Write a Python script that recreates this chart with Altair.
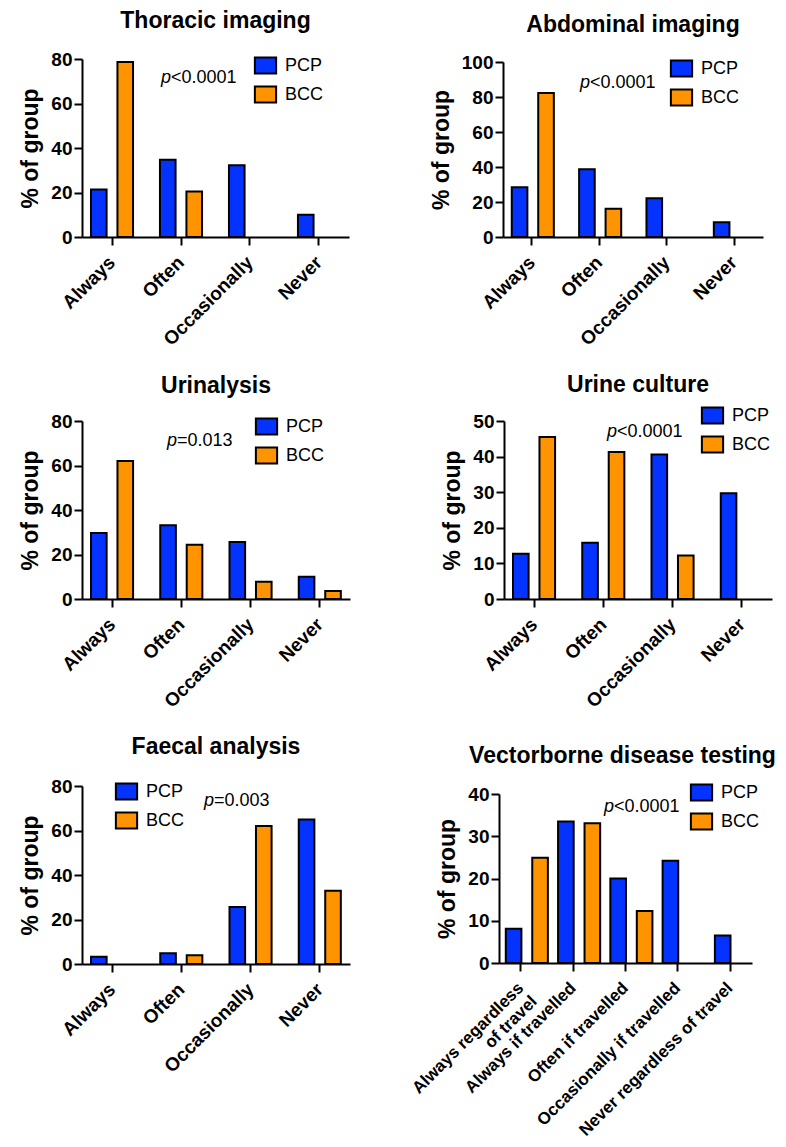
import altair as alt
import pandas as pd

FONT = "Liberation Sans"
BLUE = "#0433FF"
ORANGE = "#FF9300"
groups = ["PCP", "BCC"]

# ---- data ----
freq_cats = ["Always", "Often", "Occasionally", "Never"]

thoracic_pcp = [21.3, 34.7, 32.3, 10.0]
thoracic_bcc = [78.7, 20.4, 0, 0]

abdominal_pcp = [28.5, 38.7, 22.1, 8.5]
abdominal_bcc = [82.3, 16.2, 0, 0]

urinalysis_pcp = [29.7, 33.2, 25.6, 10.0]
urinalysis_bcc = [62.0, 24.4, 7.8, 3.6]

culture_pcp = [12.7, 15.8, 40.6, 29.7]
culture_bcc = [45.5, 41.3, 12.2, 0]

faecal_pcp = [3.3, 4.8, 25.6, 65.0]
faecal_bcc = [0, 3.9, 62.0, 32.9]

vector_cats = ["Always regardless of travel", "Always if travelled",
               "Often if travelled", "Occasionally if travelled",
               "Never regardless of travel"]
vector_pcp = [8.1, 33.5, 20.0, 24.2, 6.5]
vector_bcc = [24.9, 33.1, 12.3, 0, 0]

titles = ["Thoracic imaging", "Abdominal imaging", "Urinalysis",
          "Urine culture", "Faecal analysis", "Vectorborne disease testing"]
p_values = ["<0.0001", "<0.0001", "=0.013", "<0.0001", "=0.003", "<0.0001"]
y_max = [80, 100, 80, 50, 80, 40]
y_step = [20, 20, 20, 10, 20, 10]

LEG_SHAPE = "M-1.25,-0.95H1.25V0.95H-1.25Z"


def panel(title, cats, pcp, bcc, ymax, ystep, w, h, top_gap, leg, ptxt, pxy,
          pad_in, pad_out, off_pad, t_off, t_dx=0, xfs=19, label_expr=None):
    rows = []
    for c, a, b in zip(cats, pcp, bcc):
        if a > 0:
            rows.append({"cat": c, "group": "PCP", "val": a})
        if b > 0:
            rows.append({"cat": c, "group": "BCC", "val": b})
    df = pd.DataFrame(rows)

    xaxis_kw = dict(title=None, labelAngle=-45, labelAlign="right",
                    labelBaseline="middle", labelFontSize=xfs, labelPadding=14,
                    labelLimit=400)
    if label_expr:
        xaxis_kw["labelExpr"] = label_expr
    bars = alt.Chart(df).mark_bar(stroke="black", strokeWidth=2).encode(
        x=alt.X("cat:N", sort=cats,
                scale=alt.Scale(domain=cats, paddingInner=pad_in,
                                paddingOuter=pad_out),
                axis=alt.Axis(**xaxis_kw)),
        xOffset=alt.XOffset("group:N", sort=groups,
                            scale=alt.Scale(domain=groups, paddingInner=off_pad)),
        y=alt.Y("val:Q",
                scale=alt.Scale(domain=[0, ymax], nice=False,
                                range=[h, top_gap]),
                axis=alt.Axis(values=list(range(0, ymax + 1, ystep)),
                              title="% of group")),
        color=alt.Color("group:N", sort=groups,
                        scale=alt.Scale(domain=groups, range=[BLUE, ORANGE]),
                        legend=alt.Legend(title=None, orient="none",
                                          direction="vertical",
                                          legendX=leg[0], legendY=leg[1],
                                          symbolType=LEG_SHAPE, symbolSize=289,
                                          symbolStrokeColor="black",
                                          symbolStrokeWidth=2, symbolOpacity=1,
                                          labelFont=FONT, labelFontSize=18,
                                          labelColor="black", labelOffset=10,
                                          rowPadding=4, padding=0)),
    )
    p_it = alt.Chart(pd.DataFrame({"t": ["p"]})).mark_text(
        font=FONT, fontSize=18, fontStyle="italic", align="left",
        baseline="alphabetic", color="black").encode(
        text="t:N", x=alt.value(pxy[0]), y=alt.value(pxy[1]))
    p_rest = alt.Chart(pd.DataFrame({"t": [ptxt]})).mark_text(
        font=FONT, fontSize=18, align="left", baseline="alphabetic",
        color="black").encode(
        text="t:N", x=alt.value(pxy[0] + 10), y=alt.value(pxy[1]))
    return alt.layer(bars, p_it, p_rest).properties(
        width=w, height=h,
        title=alt.Title(title, font=FONT, fontSize=23, fontWeight="bold",
                        color="black", anchor="middle", frame="group",
                        offset=t_off, dx=t_dx))


p1 = panel(titles[0], freq_cats, thoracic_pcp, thoracic_bcc, y_max[0], y_step[0],
           267, 178, 0, (174, -3), p_values[0], (79, 24), 0.39, 0.13, 0.41, 17)
p2 = panel(titles[1], freq_cats, abdominal_pcp, abdominal_bcc, y_max[1], y_step[1],
           260, 178, 3, (169, 0), p_values[1], (77, 29), 0.40, 0.13, 0.41, 16)
p3 = panel(titles[2], freq_cats, urinalysis_pcp, urinalysis_bcc, y_max[2], y_step[2],
           268, 178, 0, (175, -4), p_values[2], (85, 25), 0.39, 0.13, 0.41, 14)
p4 = panel(titles[3], freq_cats, culture_pcp, culture_bcc, y_max[3], y_step[3],
           268, 178, 0, (199, -15), p_values[3], (103, 16), 0.39, 0.13, 0.41, 9)
p5 = panel(titles[4], freq_cats, faecal_pcp, faecal_bcc, y_max[4], y_step[4],
           268, 178, 0, (35, -4), p_values[4], (122, 20), 0.39, 0.13, 0.41, 18)
p6 = panel(titles[5], vector_cats, vector_pcp, vector_bcc, y_max[5], y_step[5],
           253, 177, 8, (193, -3), p_values[5], (105, 26), 0.42, 0.13, 0.42, 15,
           t_dx=-3, xfs=17,
           label_expr="datum.value == 'Always regardless of travel' ? "
                      "['Always regardless', 'of travel'] : datum.label")

row1 = alt.hconcat(p1, p2, spacing=81).resolve_scale(color="independent").resolve_legend(color="independent")
row2 = alt.hconcat(p3, p4, spacing=91).resolve_scale(color="independent").resolve_legend(color="independent")
row3 = alt.hconcat(p5, p6, spacing=58).resolve_scale(color="independent").resolve_legend(color="independent")

chart = alt.vconcat(row1, row2, row3, spacing=25).resolve_scale(
    color="independent").resolve_legend(color="independent").properties(
    padding={"left": 11, "top": 2, "right": 0, "bottom": 0}
).configure_view(stroke=None).configure_axis(
    grid=False, domainColor="black", domainWidth=2, tickColor="black",
    tickWidth=2, tickSize=8, labelFont=FONT, labelFontWeight="bold",
    labelColor="black", titleFont=FONT, titleFontWeight="bold",
    titleColor="black", titleFontSize=23
).configure_axisY(labelFontSize=19, labelPadding=2, titlePadding=8)

chart.save("out.html", embed_options={"renderer": "svg", "actions": False})
